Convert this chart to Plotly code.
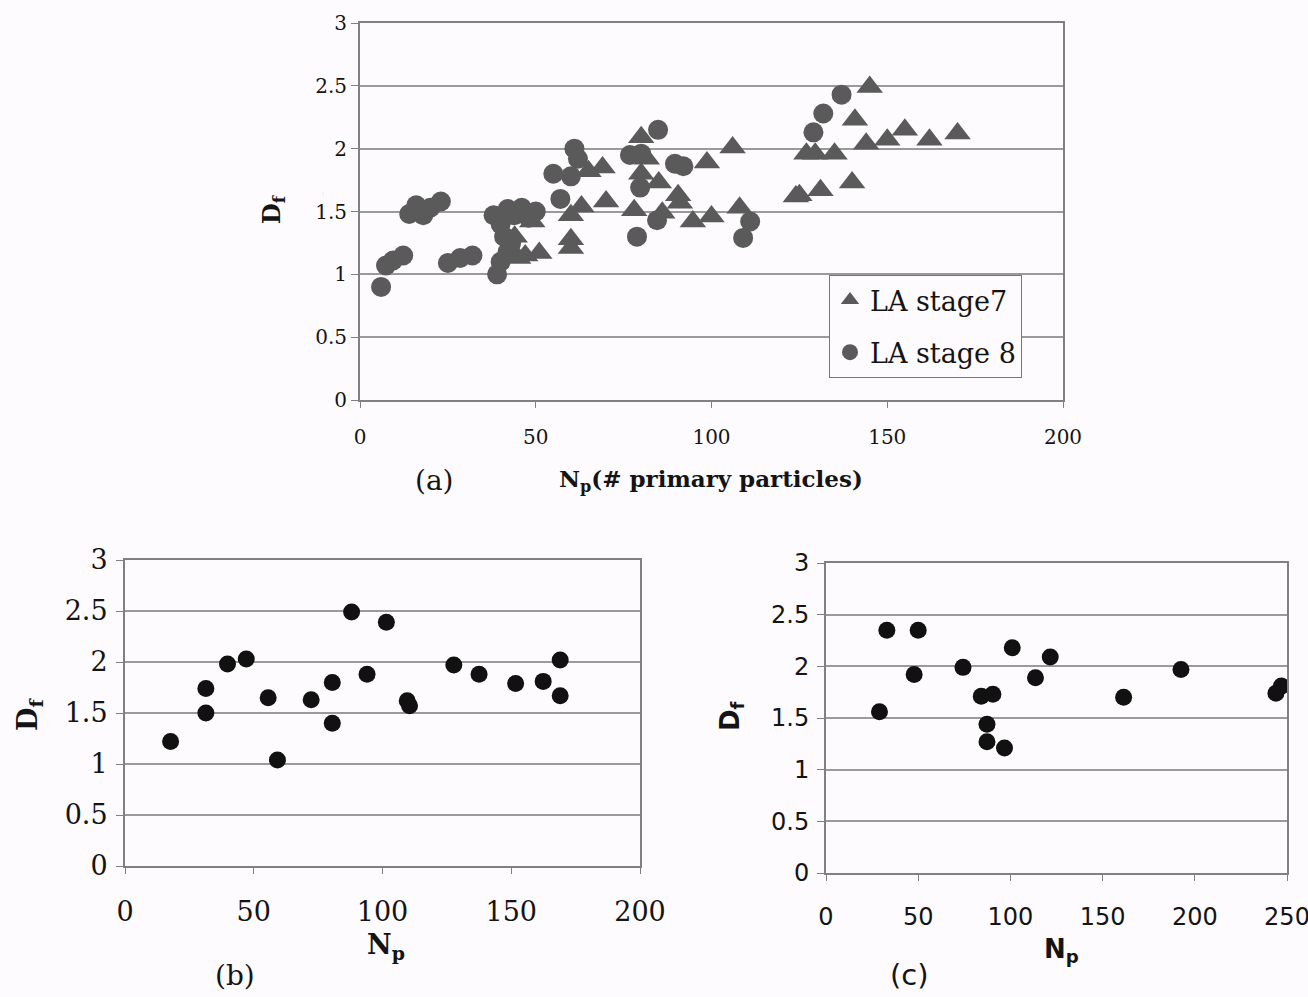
import plotly.graph_objects as go

W, H = 1308, 997

# ---- Panel (a) data ----
a7_x = [43, 45, 47, 51, 49, 44, 60, 60, 60, 63, 65, 69, 70, 78, 80, 81.6, 80, 85, 90.5, 91, 86, 94.7,
        98.7, 100, 106, 108, 124, 125, 127, 129.5, 131, 135, 140, 140.8, 144, 145, 150, 155, 162, 170]
a7_y = [1.20, 1.13, 1.15, 1.17, 1.42, 1.30, 1.47, 1.28, 1.21, 1.54, 1.82, 1.85, 1.58, 1.51, 2.09, 1.92,
        1.80, 1.73, 1.63, 1.57, 1.49, 1.42, 1.89, 1.46, 2.01, 1.53, 1.62, 1.63, 1.96, 1.96, 1.67, 1.96,
        1.73, 2.23, 2.04, 2.49, 2.07, 2.15, 2.07, 2.12]
a8_x = [6, 7.4, 9.4, 12.3, 14, 16, 18, 20, 23, 25, 28.5, 32, 38, 40, 42, 44, 46, 48, 50, 41, 42, 40, 39,
        43, 55, 61, 62, 60, 57, 76.8, 80, 84.8, 89.6, 92, 79.7, 84.5, 78.8, 111, 109, 129, 131.8, 137]
a8_y = [0.90, 1.07, 1.11, 1.15, 1.48, 1.55, 1.47, 1.53, 1.58, 1.09, 1.13, 1.15, 1.47, 1.40, 1.52, 1.47,
        1.53, 1.45, 1.50, 1.30, 1.18, 1.10, 1.00, 1.25, 1.80, 2.00, 1.92, 1.78, 1.60, 1.95, 1.96, 2.15,
        1.88, 1.86, 1.69, 1.43, 1.30, 1.42, 1.29, 2.13, 2.28, 2.43]

# ---- Panel (b) data ----
b_x = [17.7, 31.4, 31.4, 39.8, 47.1, 55.6, 59.2, 72.3, 80.5, 80.5, 88, 94, 101.5, 109.6, 110.5,
       127.7, 137.5, 151.7, 162.4, 169, 169]
b_y = [1.22, 1.74, 1.50, 1.98, 2.03, 1.65, 1.04, 1.63, 1.80, 1.40, 2.49, 1.88, 2.39, 1.62, 1.57,
       1.97, 1.88, 1.79, 1.81, 2.02, 1.67]

# ---- Panel (c) data ----
c_x = [29, 33, 50, 47.8, 74.3, 101, 121.6, 113.6, 84.2, 90.5, 87.3, 87.3, 96.8, 161.4, 192.5, 244, 247]
c_y = [1.56, 2.35, 2.35, 1.92, 1.99, 2.18, 2.09, 1.89, 1.71, 1.73, 1.44, 1.27, 1.21, 1.70, 1.97, 1.74, 1.81]

y_ticks = [0, 0.5, 1, 1.5, 2, 2.5, 3]
y_labels = ["0", "0.5", "1", "1.5", "2", "2.5", "3"]

def px_x(p):
    return p / W

def px_y(p):
    return 1 - p / H

fig = go.Figure()

grey = "#5a5a5a"
fig.add_trace(go.Scatter(x=a7_x, y=a7_y, mode="markers", name="LA stage7", legendgroup="s7",
                         marker=dict(symbol="triangle-up", size=23, color=grey),
                         xaxis="x", yaxis="y"))
fig.add_trace(go.Scatter(x=a8_x, y=a8_y, mode="markers", name="LA stage 8", legendgroup="s8",
                         marker=dict(symbol="circle", size=20, color=grey),
                         xaxis="x", yaxis="y"))
fig.add_trace(go.Scatter(x=b_x, y=b_y, mode="markers", showlegend=False,
                         marker=dict(symbol="circle", size=17, color="#111111"),
                         xaxis="x2", yaxis="y2"))
fig.add_trace(go.Scatter(x=c_x, y=c_y, mode="markers", showlegend=False,
                         marker=dict(symbol="circle", size=17, color="#111111"),
                         xaxis="x3", yaxis="y3"))

serif = "DejaVu Serif"
sans = "DejaVu Sans"
gridc = "#9a9a9a"
txt = "#141414"

def xax(domain, anchor, rng, dtick, font, standoff):
    return dict(domain=domain, anchor=anchor, range=rng, tick0=0, dtick=dtick,
                showgrid=False, zeroline=False, showline=True, linecolor="#808080", linewidth=2,
                mirror=True, ticks="outside", ticklen=6, tickcolor="#808080", tickwidth=1,
                tickfont=font, ticklabelstandoff=standoff, ticklabeloverflow="allow",
                fixedrange=True, automargin=False)

def yax(domain, anchor, font, standoff):
    return dict(domain=domain, anchor=anchor, range=[0, 3], tickvals=y_ticks, ticktext=y_labels,
                showgrid=True, gridcolor=gridc, gridwidth=2, zeroline=False,
                showline=True, linecolor="#808080", linewidth=2, mirror=True,
                ticks="outside", ticklen=7, tickcolor="#808080", tickwidth=1,
                tickfont=font, ticklabelstandoff=standoff, ticklabeloverflow="allow",
                fixedrange=True, automargin=False)

fa = dict(family=serif, size=20, color=txt)
fb = dict(family=serif, size=27, color=txt)
fc = dict(family=sans, size=24, color=txt)

fig.update_layout(
    width=W, height=H,
    margin=dict(l=0, r=0, t=0, b=0, autoexpand=False),
    paper_bgcolor="#fdfbfd", plot_bgcolor="#fdfbfd",
    xaxis=xax([px_x(360), px_x(1063)], "y", [0, 200], 50, fa, 12),
    yaxis=yax([px_y(400), px_y(23)], "x", fa, 0),
    xaxis2=xax([px_x(125), px_x(640)], "y2", [0, 200], 50, fb, 15),
    yaxis2=yax([px_y(866), px_y(560)], "x2", fb, 3),
    xaxis3=xax([px_x(826), px_x(1287)], "y3", [0, 250], 50, fc, 15),
    yaxis3=yax([px_y(873), px_y(563)], "x3", fc, 3),
    legend=dict(x=px_x(829), y=px_y(275), xanchor="left", yanchor="top",
                bgcolor="#fdfbfd", bordercolor="#777", borderwidth=1,
                font=dict(family=serif, size=27, color=txt),
                itemsizing="trace", tracegroupgap=14),
    showlegend=True,
)

ann = [
    dict(x=px_x(273), y=px_y(209), text="<b>D<sub>f</sub></b>", textangle=-90,
         font=dict(family=serif, size=24, color=txt)),
    dict(x=px_x(434), y=px_y(480), text="(a)", font=dict(family=serif, size=28, color=txt)),
    dict(x=px_x(711), y=px_y(481), text="<b>N<sub>p</sub>(# primary particles)</b>",
         font=dict(family=serif, size=23, color=txt)),
    dict(x=px_x(29), y=px_y(715), text="<b>D<sub>f</sub></b>", textangle=-90,
         font=dict(family=serif, size=27, color=txt)),
    dict(x=px_x(386), y=px_y(946), text="<b>N<sub>p</sub></b>", font=dict(family=serif, size=27, color=txt)),
    dict(x=px_x(235), y=px_y(975), text="(b)", font=dict(family=serif, size=28, color=txt)),
    dict(x=px_x(731), y=px_y(716), text="<b>D<sub>f</sub></b>", textangle=-90,
         font=dict(family=sans, size=26, color=txt)),
    dict(x=px_x(1061), y=px_y(950), text="<b>N<sub>p</sub></b>", font=dict(family=sans, size=26, color=txt)),
    dict(x=px_x(909), y=px_y(975), text="(c)", font=dict(family=sans, size=29, color=txt)),
]
for a in ann:
    a.update(xref="paper", yref="paper", showarrow=False, xanchor="center", yanchor="middle")
fig.update_layout(annotations=ann)

fig.write_html("out.html")
